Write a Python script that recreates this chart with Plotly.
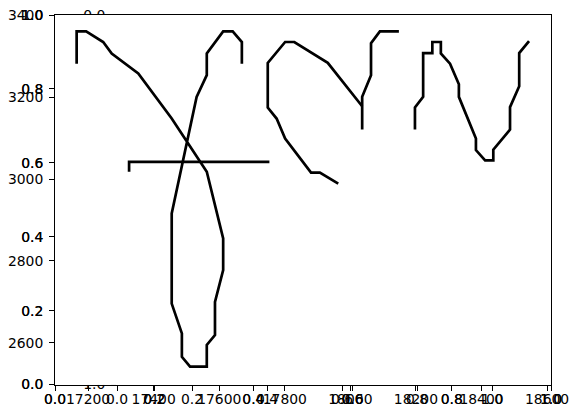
import plotly.graph_objects as go

# ---------------- data (axes "B": x 17200..18600, y 2600..3400) ----------------
p1_x = [17165, 17165, 17194, 17246, 17272, 17353, 17455, 17562, 17612, 17612, 17587, 17587,
        17562, 17562, 17511, 17486, 17486, 17455, 17455, 17531, 17562, 17562, 17612, 17641,
        17669, 17669]
p1_y = [3282, 3361, 3361, 3335, 3307, 3258, 3148, 3018, 2855, 2778, 2700, 2619,
        2595, 2542, 2542, 2566, 2623, 2696, 2916, 3201, 3254, 3307, 3361, 3361,
        3335, 3282]

p2_x = [17325, 17325, 17753]
p2_y = [3018, 3042, 3042]

p3_x = [17963, 17907, 17880, 17801, 17775, 17748, 17748, 17801, 17829, 17931, 18036]
p3_y = [2989, 3016, 3016, 3099, 3148, 3175, 3284, 3335, 3335, 3284, 3178]

p4_x = [18036, 18036, 18063, 18063, 18090, 18148]
p4_y = [3121, 3201, 3254, 3332, 3361, 3361]

p5_x = [18197, 18197, 18222, 18222, 18250, 18250, 18276, 18276, 18304, 18331, 18331,
        18383, 18383, 18411, 18436, 18436, 18487, 18487, 18515, 18515, 18545]
p5_y = [3121, 3175, 3201, 3308, 3308, 3335, 3335, 3307, 3282, 3232, 3201,
        3099, 3071, 3046, 3046, 3072, 3121, 3176, 3227, 3308, 3337]

paths = [(p1_x, p1_y), (p2_x, p2_y), (p3_x, p3_y), (p4_x, p4_y), (p5_x, p5_y)]

b_xticks = [17200, 17400, 17600, 17800, 18000, 18200, 18400, 18600]
b_yticks = [2600, 2800, 3000, 3200, 3400]
b_xrange = [17099, 18612]
b_yrange = [2498, 3401]

unit_ticks = [0.0, 0.2, 0.4, 0.6, 0.8, 1.0]
unit_labels = ["0.0", "0.2", "0.4", "0.6", "0.8", "1.0"]

# ---------------- layout geometry (pixels) ----------------
W, H = 577, 418
L, R, T, B = 55, 551, 15, 384.6
CL, CR = 117, 492


def fx(p):
    return p / W


def fy(p):
    return 1 - p / H


font = dict(family="DejaVu Sans", size=13.9, color="black")
TL = 4.9
TW = 1.1


def axis(domain, rng, tickvals, ticktext=None, anchor=None, line=True, standoff=3):
    d = dict(domain=domain, range=rng, tickvals=tickvals, ticks="outside", ticklen=TL,
             tickwidth=TW, tickcolor="black", showgrid=False, zeroline=False,
             tickfont=font, automargin=False, anchor=anchor, ticklabelstandoff=standoff)
    if ticktext is not None:
        d["ticktext"] = ticktext
    if line:
        d.update(showline=True, mirror=True, linecolor="black", linewidth=TW)
    else:
        d.update(showline=False)
    return d


fig = go.Figure()

# empty traces to make sure every subplot exists
for i in ["", "2", "3"]:
    fig.add_trace(go.Scatter(x=[], y=[], xaxis="x" + i, yaxis="y" + i, showlegend=False))

for xs, ys in paths:
    fig.add_trace(go.Scatter(x=xs, y=ys, mode="lines", xaxis="x4", yaxis="y4",
                             line=dict(color="black", width=2.7), showlegend=False,
                             hoverinfo="skip"))

xd_main = [fx(L), fx(R)]
yd_main = [fy(B), fy(T)]
XS = -3

fig.update_layout(
    width=W, height=H,
    margin=dict(l=0, r=0, t=0, b=0),
    paper_bgcolor="white", plot_bgcolor="white",
    template="none",
    showlegend=False,
    # axes C (underneath, reversed y)
    xaxis=axis([fx(CL), fx(CR)], [0, 1], unit_ticks, unit_labels, anchor="y", line=False, standoff=XS),
    yaxis=axis(yd_main, [1, 0], unit_ticks, unit_labels, anchor="x", line=False),
    # axes A (drawn twice)
    xaxis2=axis(xd_main, [0, 1], unit_ticks, unit_labels, anchor="y2", standoff=XS),
    yaxis2=axis(yd_main, [0, 1], unit_ticks, unit_labels, anchor="x2"),
    xaxis3=axis(xd_main, [0, 1], unit_ticks, unit_labels, anchor="y3", standoff=XS),
    yaxis3=axis(yd_main, [0, 1], unit_ticks, unit_labels, anchor="x3"),
    # axes B (data)
    xaxis4=axis(xd_main, b_xrange, b_xticks, [str(v) for v in b_xticks], anchor="y4", standoff=XS),
    yaxis4=axis(yd_main, b_yrange, b_yticks, [str(v) for v in b_yticks], anchor="x4"),
    shapes=[dict(type="rect", xref="x2", yref="y2", x0=0, x1=1, y0=0, y1=1,
                 fillcolor="white", line=dict(width=0), layer="below")],
)

fig.write_html("out.html")
